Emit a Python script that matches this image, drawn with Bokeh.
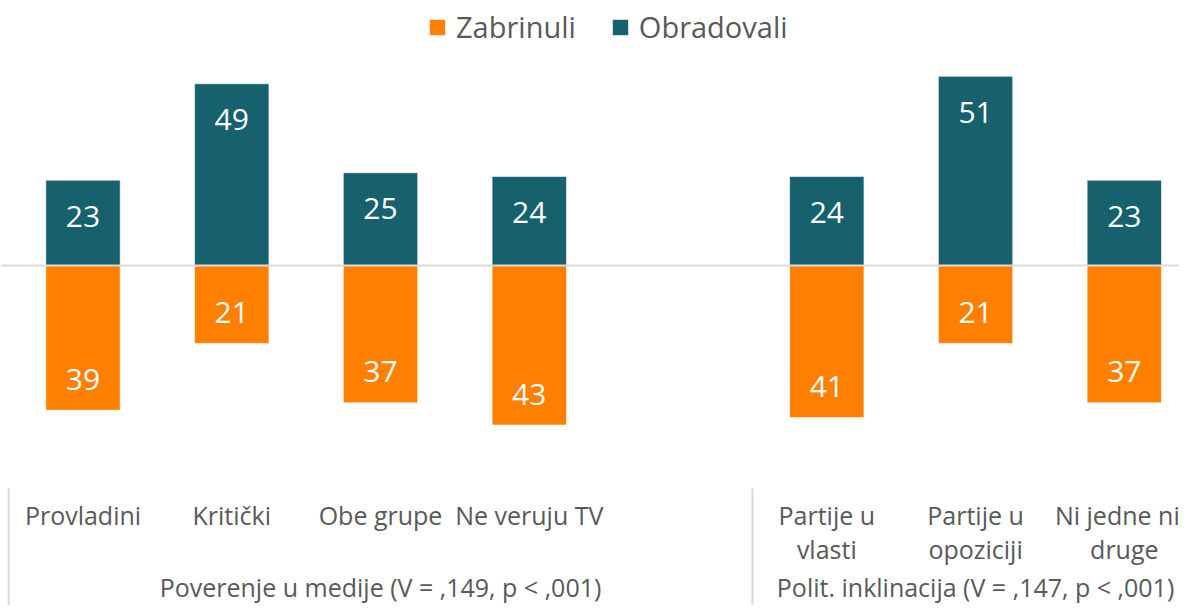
from bokeh.plotting import figure
from bokeh.models import Range1d, Span, Legend, LegendItem
from bokeh.core.properties import value
from bokeh.embed import file_html
from bokeh.resources import INLINE

# ---- data ----
categories = ["Provladini", "Kritički", "Obe grupe", "Ne veruju TV", "",
              "Partije u\nvlasti", "Partije u\nopoziciji", "Ni jedne ni\ndruge"]
groups = ["Poverenje u medije (V = ,149, p < ,001)",
          "Polit. inklinacija (V = ,147, p < ,001)"]
group_sizes = [5, 3]
zabrinuli = [39, 21, 37, 43, None, 41, 21, 37]
obradovali = [23, 49, 25, 24, None, 24, 51, 23]
series_names = ["Zabrinuli", "Obradovali"]

ORANGE = "#FF7F00"
TEAL = "#17606D"
GRAY_TXT = "#595959"
GRAY_LN = "#D9D9D9"
FONT = value("Open Sans")

xs = [i for i, v in enumerate(zabrinuli) if v is not None]
z_vals = [zabrinuli[i] for i in xs]
o_vals = [obradovali[i] for i in xs]

p = figure(width=1179, height=605, x_range=Range1d(-0.5546, 7.371),
           y_range=Range1d(-91.64, 71.43), x_axis_type=None, y_axis_type=None,
           toolbar_location=None, output_backend="svg", min_border=0,
           outline_line_color=None)
p.grid.visible = False

# baseline
p.add_layout(Span(location=0, dimension="width", line_color=GRAY_LN, line_width=2))

r_o = p.vbar(x=xs, top=o_vals, bottom=0, width=0.5, fill_color=TEAL,
             line_color="white", line_width=1, line_alpha=0.6)
r_z = p.vbar(x=xs, top=0, bottom=[-v for v in z_vals], width=0.5, fill_color=ORANGE,
             line_color="white", line_width=1, line_alpha=0.6)

# value labels
p.text(x=xs, y=o_vals, text=[str(v) for v in o_vals], text_align="center",
       text_baseline="alphabetic", y_offset=36, text_color="white",
       text_font=FONT, text_font_size="30px")
p.text(x=xs, y=[-v for v in z_vals], text=[str(v) for v in z_vals], text_align="center",
       text_baseline="alphabetic", y_offset=-31, text_color="white",
       text_font=FONT, text_font_size="30px")

# category labels (one or two lines); the last one is nudged inside the edge
all_x = list(range(len(categories)))
line1 = [c.split("\n")[0] for c in categories]
line2 = [c.split("\n")[1] if "\n" in c else "" for c in categories]
nudge = [0] * (len(categories) - 1) + [-7]
p.text(x=all_x, y=[-67.2] * len(all_x), text=line1, text_align="center",
       text_baseline="alphabetic", x_offset=nudge, text_color=GRAY_TXT, text_font=FONT,
       text_font_size="25px")
p.text(x=all_x, y=[-67.2] * len(all_x), text=line2, text_align="center",
       text_baseline="alphabetic", y_offset=34, text_color=GRAY_TXT, text_font=FONT,
       text_font_size="25px")

# group labels and separators
bounds = [-0.5]
for s in group_sizes:
    bounds.append(bounds[-1] + s)
centers = [(bounds[i] + bounds[i + 1]) / 2 for i in range(len(group_sizes))]
p.text(x=centers, y=[-86.6] * len(centers), text=groups, text_align="center",
       text_baseline="alphabetic", text_color=GRAY_TXT, text_font=FONT,
       text_font_size="25px")
p.segment(x0=bounds, x1=bounds, y0=[-60] * len(bounds), y1=[-100] * len(bounds),
          line_color=GRAY_LN, line_width=2)

legend = Legend(items=[LegendItem(label=series_names[0], renderers=[r_z]),
                       LegendItem(label=series_names[1], renderers=[r_o])],
                orientation="horizontal", location=(427, 559),
                glyph_width=20, glyph_height=20, label_standoff=9, spacing=34,
                padding=0, margin=0, border_line_alpha=0, background_fill_alpha=0,
                label_text_font="Open Sans", label_text_font_size="29px",
                label_text_color=GRAY_TXT)
p.add_layout(legend)

open("out.html", "w").write(file_html(p, INLINE))
